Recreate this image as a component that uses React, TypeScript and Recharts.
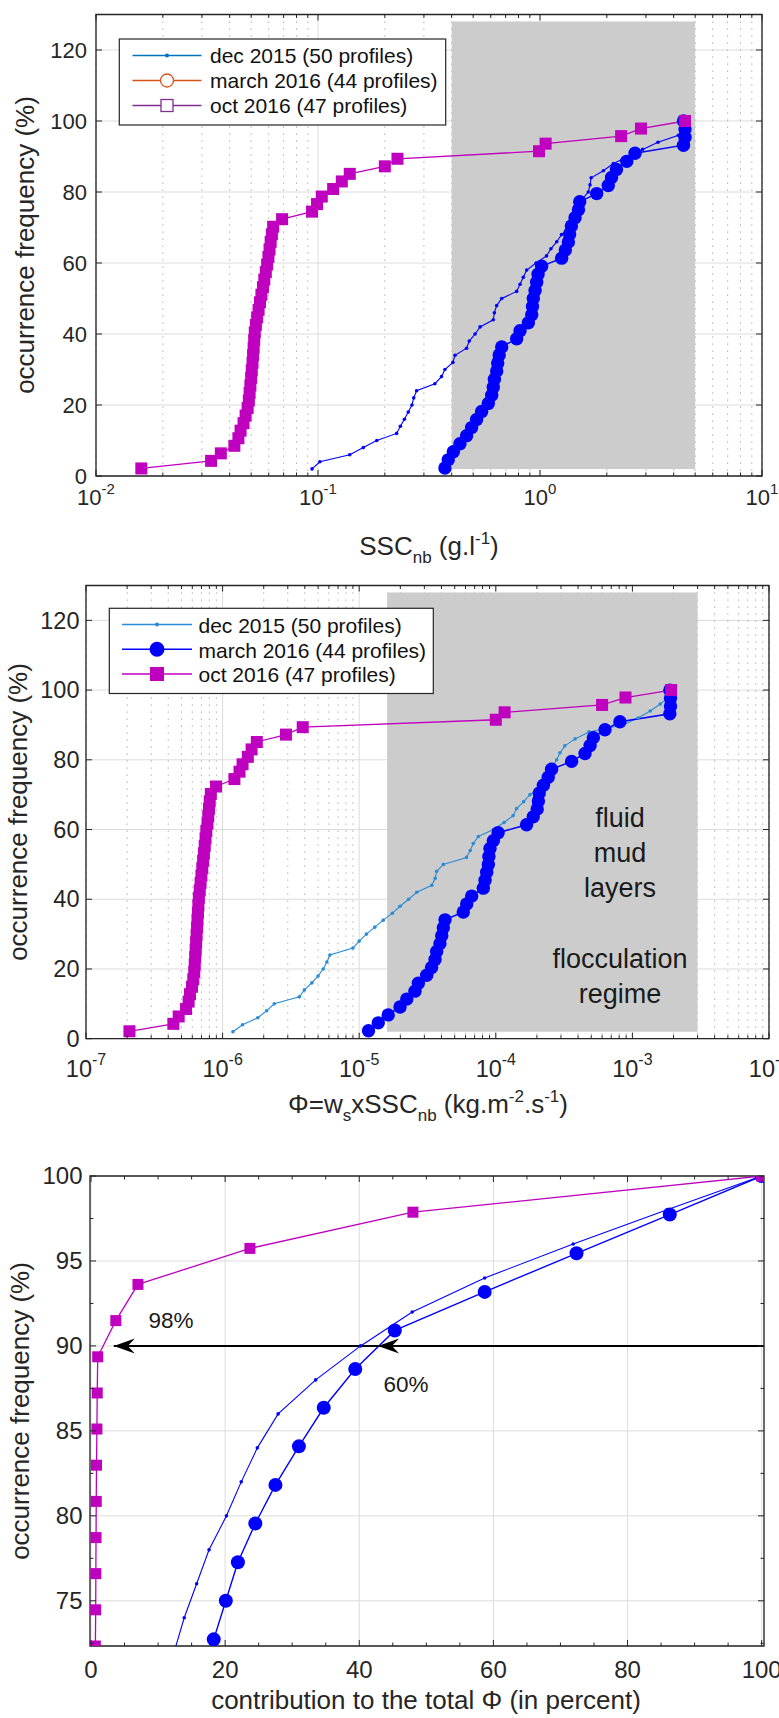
import React from 'react';
import {
  LineChart, Line, XAxis, YAxis, CartesianGrid,
  ReferenceArea, ReferenceLine, ReferenceDot,
} from 'recharts';

const FONT = '"Liberation Sans", Arial, Helvetica, sans-serif';
const INK = '#262626';
const GRID = '#dcdcdc';
const DOTGRID = '#9c9c9c';
const BLUE = '#0000ff';
const SKY = '#2b8cd6';
const MAGENTA = '#bf00bf';
const PATCH = '#cccccc';
const W = 779;

// cumulative occurrence frequency (%) of each campaign
const DEC_FREQ = [2, 4, 6, 8, 10, 12, 14, 16, 18, 20, 22, 24, 26, 28, 30, 32, 34, 36, 38, 40, 42, 44, 46, 48, 50,
  52, 54, 56, 58, 60, 62, 64, 66, 68, 70, 72, 74, 76, 78, 80, 82, 84, 86, 88, 90, 92, 94, 96, 98, 100];
const MAR_FREQ = [2.27, 4.55, 6.82, 9.09, 11.36, 13.64, 15.91, 18.18, 20.45, 22.73, 25, 27.27, 29.55, 31.82, 34.09,
  36.36, 38.64, 40.91, 43.18, 45.45, 47.73, 50, 52.27, 54.55, 56.82, 59.09, 61.36, 63.64, 65.91, 68.18, 70.45,
  72.73, 75, 77.27, 79.55, 81.82, 84.09, 86.36, 88.64, 90.91, 93.18, 95.45, 97.73, 100];
const OCT_FREQ = [2.13, 4.26, 6.38, 8.51, 10.64, 12.77, 14.89, 17.02, 19.15, 21.28, 23.4, 25.53, 27.66, 29.79, 31.91,
  34.04, 36.17, 38.3, 40.43, 42.55, 44.68, 46.81, 48.94, 51.06, 53.19, 55.32, 57.45, 59.57, 61.7, 63.83, 65.96,
  68.09, 70.21, 72.34, 74.47, 76.6, 78.72, 80.85, 82.98, 85.11, 87.23, 89.36, 91.49, 93.62, 95.74, 97.87, 100];

// SSC_nb (g/l)
const DEC_SSC = [0.094, 0.102, 0.139, 0.16, 0.184, 0.226, 0.235, 0.245, 0.255, 0.265, 0.27, 0.278, 0.336, 0.36, 0.373,
  0.405, 0.414, 0.467, 0.48, 0.51, 0.537, 0.616, 0.623, 0.638, 0.672, 0.785, 0.813, 0.841, 0.871, 0.96, 1.07, 1.12,
  1.19, 1.25, 1.36, 1.4, 1.45, 1.5, 1.55, 1.65, 1.68, 1.7, 1.93, 2.14, 2.5, 2.9, 3.4, 4.2, 4.4, 4.45];
const MAR_SSC = [0.373, 0.386, 0.407, 0.436, 0.467, 0.492, 0.518, 0.546, 0.585, 0.606, 0.616, 0.623, 0.638, 0.645,
  0.655, 0.672, 0.785, 0.813, 0.886, 0.918, 0.925, 0.933, 0.95, 0.966, 0.98, 1.017, 1.252, 1.3, 1.342, 1.36, 1.385,
  1.438, 1.49, 1.51, 1.8, 2.03, 2.1, 2.21, 2.46, 2.68, 4.43, 4.5, 4.5, 4.43];
const OCT_SSC = [0.016, 0.033, 0.0365, 0.042, 0.0438, 0.0448, 0.0462, 0.0472, 0.0482, 0.0488, 0.0492, 0.0496, 0.05,
  0.0503, 0.0507, 0.051, 0.0513, 0.0516, 0.0519, 0.0525, 0.0532, 0.054, 0.0548, 0.0556, 0.0565, 0.0573, 0.0582,
  0.059, 0.0598, 0.0605, 0.0612, 0.062, 0.0628, 0.0689, 0.094, 0.099, 0.104, 0.117, 0.128, 0.139, 0.2, 0.228, 0.99,
  1.06, 2.32, 2.85, 4.5];

// settling flux (kg/m2/s)
const DEC_FLUX = [1.19e-6, 1.4e-6, 1.81e-6, 2.1e-6, 2.39e-6, 3.65e-6, 3.97e-6, 4.5e-6, 5.0e-6, 5.45e-6,
  5.8e-6, 6.1e-6, 9.0e-6, 1.0e-5, 1.13e-5, 1.3e-5, 1.5e-5, 1.75e-5, 1.99e-5, 2.3e-5,
  2.64e-5, 3.4e-5, 3.6e-5, 3.69e-5, 4.13e-5, 6.1e-5, 6.5e-5, 6.84e-5, 7.45e-5, 9.6e-5,
  1.15e-4, 1.34e-4, 1.42e-4, 1.6e-4, 1.78e-4, 2.1e-4, 2.2e-4, 2.36e-4, 2.6e-4, 2.79e-4,
  2.95e-4, 3.2e-4, 3.8e-4, 4.8e-4, 8.5e-4, 1.1e-3, 1.35e-3, 1.6e-3, 1.85e-3, 1.88e-3];
const MAR_FLUX = [1.17e-5, 1.38e-5, 1.63e-5, 1.99e-5, 2.23e-5, 2.56e-5, 2.71e-5, 3.12e-5, 3.39e-5, 3.59e-5,
  3.69e-5, 3.9e-5, 4.02e-5, 4.13e-5, 4.25e-5, 5.78e-5, 6.12e-5, 6.66e-5, 8.1e-5, 8.34e-5,
  8.58e-5, 8.82e-5, 8.9e-5, 9.07e-5, 9.6e-5, 1.04e-4, 1.68e-4, 1.88e-4, 2.01e-4, 2.05e-4,
  2.08e-4, 2.23e-4, 2.42e-4, 2.56e-4, 3.59e-4, 4.5e-4, 4.9e-4, 5.18e-4, 6.3e-4, 8.1e-4,
  1.88e-3, 1.9e-3, 1.9e-3, 1.88e-3];
const OCT_FLUX = [2.08e-7, 4.36e-7, 4.77e-7, 5.4e-7, 5.64e-7, 5.77e-7, 5.97e-7, 6.1e-7, 6.2e-7, 6.25e-7,
  6.3e-7, 6.35e-7, 6.4e-7, 6.45e-7, 6.5e-7, 6.55e-7, 6.6e-7, 6.65e-7, 6.7e-7, 6.8e-7,
  6.9e-7, 7.0e-7, 7.1e-7, 7.2e-7, 7.3e-7, 7.4e-7, 7.5e-7, 7.6e-7, 7.75e-7, 7.85e-7,
  7.95e-7, 8.05e-7, 8.2e-7, 8.95e-7, 1.22e-6, 1.33e-6, 1.4e-6, 1.53e-6, 1.63e-6, 1.78e-6,
  2.91e-6, 3.86e-6, 1.0e-4, 1.16e-4, 6.0e-4, 8.9e-4, 1.92e-3];

// contribution to total flux (%), upper part of the distribution only
const DEC_SHARE_FREQ = [72, 74, 76, 78, 80, 82, 84, 86, 88, 90, 92, 94, 96, 98, 100];
const DEC_SHARE = [12.4, 13.9, 15.75, 17.6, 20.2, 22.4, 24.8, 27.9, 33.5, 40.2, 47.9, 58.7, 71.9, 85.8, 100];
const MAR_SHARE_FREQ = [70.45, 72.73, 75, 77.27, 79.55, 81.82, 84.09, 86.36, 88.64, 90.91, 93.18, 95.45, 97.73, 100];
const MAR_SHARE = [16.8, 18.3, 20.1, 21.9, 24.5, 27.5, 31.0, 34.7, 39.4, 45.3, 58.7, 72.4, 86.3, 100];
const OCT_SHARE_FREQ = [70.21, 72.34, 74.47, 76.6, 78.72, 80.85, 82.98, 85.11, 87.23, 89.36, 91.49, 93.62, 95.74, 97.87, 100];
const OCT_SHARE = [0.6, 0.65, 0.7, 0.72, 0.75, 0.78, 0.82, 0.88, 0.93, 1.0, 3.7, 7.0, 23.7, 48.0, 100];

// shaded regimes
const PATCH_SSC = [0.4, 5];
const PATCH_FLUX = [1.6e-5, 3e-3];
const PATCH_FREQ = [2, 128];

// arrow annotation in panel 3
const ARROW_Y = 90;
const ARROW_TIPS = [3.4, 42.8];

const SSC_TICKS = [0.01, 0.1, 1, 10];
const FLUX_TICKS = [1e-7, 1e-6, 1e-5, 1e-4, 1e-3, 1e-2];
const FREQ_TICKS = [0, 20, 40, 60, 80, 100, 120];
const SHARE_TICKS = [0, 20, 40, 60, 80, 100];
const SHARE_MINOR = [5, 10, 15, 25, 30, 35, 45, 50, 55, 65, 70, 75, 85, 90, 95];
const SHARE_FREQ_TICKS = [75, 80, 85, 90, 95, 100];
const SHARE_FREQ_MINOR = [72.5, 77.5, 82.5, 87.5, 92.5, 97.5];

const LEGEND_LABELS = ['dec 2015 (50 profiles)', 'march 2016 (44 profiles)', 'oct 2016 (47 profiles)'];

const decadeMinors = (from: number, to: number) => {
  const out: number[] = [];
  for (let e = from; e < to; e++) for (let m = 2; m <= 9; m++) out.push(m * Math.pow(10, e));
  return out;
};
const SSC_MINOR = decadeMinors(-2, 1);
const FLUX_MINOR = decadeMinors(-7, -2);

type Pt = { x: number; y: number };
const zip = (xs: number[], ys: number[]): Pt[] => xs.map((x, i) => ({ x, y: ys[i] }));

const marker = (kind: 'disc' | 'block', color: string, size: number) => (p: any) => {
  const { cx, cy, index } = p;
  if (cx == null || cy == null) return <g key={`m${index}`} />;
  if (kind === 'block') {
    return <rect key={`m${index}`} x={cx - size / 2} y={cy - size / 2} width={size} height={size} fill={color} />;
  }
  return <circle key={`m${index}`} cx={cx} cy={cy} r={size} fill={color} />;
};

const arrowHead = (p: any) => (
  <path
    d={`M${p.cx},${p.cy} L${p.cx + 21},${p.cy - 7.5} L${p.cx + 14},${p.cy} L${p.cx + 21},${p.cy + 7.5} Z`}
    fill="#000"
  />
);

const logLabel = (v: number, fs: number) => {
  const e = Math.round(Math.log10(v));
  return [
    <tspan key="b">10</tspan>,
    <tspan key="e" dy={-fs * 0.5} fontSize={fs * 0.68}>{String(e)}</tspan>,
  ];
};

// shift: correction for the 1px thickness of stacked helper axes
type TickOpts = { span: number; len: number; shift?: number; fs?: number; off?: number; log?: boolean };

const xTick = (o: TickOpts) => (p: any) => {
  const x = p.x;
  const y = p.y + (o.shift || 0);
  return (
    <g>
      <line x1={x} x2={x} y1={y} y2={y - o.len} stroke={INK} strokeWidth={1} />
      <line x1={x} x2={x} y1={y - o.span} y2={y - o.span + o.len} stroke={INK} strokeWidth={1} />
      {o.fs ? (
        <text x={x} y={y + (o.off || 0)} textAnchor="middle" fontSize={o.fs} fill={INK} fontFamily={FONT}>
          {o.log ? logLabel(p.payload.value, o.fs) : p.payload.value}
        </text>
      ) : null}
    </g>
  );
};

const yTick = (o: TickOpts) => (p: any) => {
  const x = p.x + (o.shift || 0);
  const y = p.y;
  return (
    <g>
      <line x1={x} x2={x + o.len} y1={y} y2={y} stroke={INK} strokeWidth={1} />
      <line x1={x + o.span} x2={x + o.span - o.len} y1={y} y2={y} stroke={INK} strokeWidth={1} />
      {o.fs ? (
        <text x={x - (o.off || 0)} y={y} dy="0.35em" textAnchor="end" fontSize={o.fs} fill={INK} fontFamily={FONT}>
          {p.payload.value}
        </text>
      ) : null}
    </g>
  );
};

type PanelCfg = {
  top: number;
  height: number;
  plot: { l: number; r: number; t: number; b: number };
  xLog: boolean;
  xDomain: [number, number];
  xTicks: number[];
  xMinor: number[];
  yDomain: [number, number];
  yTicks: number[];
  yMinor: number[];
  fs: number;
  xOff: number;
  yGap: number;
  dotted: boolean;
};

function Panel({ cfg, series, overlay }: { cfg: PanelCfg; series: React.ReactNode[]; overlay: React.ReactNode }) {
  const { plot } = cfg;
  const plotW = plot.r - plot.l;
  const plotH = plot.b - plot.t;
  const nY = cfg.yMinor.length ? 2 : 1;
  const margin = { top: plot.t, left: plot.l - nY, right: W - plot.r, bottom: cfg.height - plot.b - 2 };
  const scale = cfg.xLog ? 'log' : 'linear';
  return (
    <div style={{ position: 'absolute', left: 0, top: cfg.top, width: W, height: cfg.height }}>
      <LineChart width={W} height={cfg.height} margin={margin}>
        <CartesianGrid stroke={GRID} strokeWidth={1} />
        {cfg.dotted ? (
          <CartesianGrid xAxisId="minor" horizontal={false} stroke={DOTGRID} strokeWidth={1} strokeDasharray="1.2 5.8" />
        ) : null}
        <XAxis
          xAxisId={0} dataKey="x" type="number" scale={scale} domain={cfg.xDomain} allowDataOverflow
          ticks={cfg.xTicks} interval={0} tickLine={false} axisLine={false} tickSize={0} tickMargin={0} height={1}
          tick={xTick({ span: plotH, len: 6, fs: cfg.fs, off: cfg.xOff, log: cfg.xLog })}
        />
        <XAxis
          xAxisId="minor" dataKey="x" type="number" scale={scale} domain={cfg.xDomain} allowDataOverflow
          ticks={cfg.xMinor} interval={0} tickLine={false} axisLine={false} tickSize={0} tickMargin={0} height={1}
          tick={xTick({ span: plotH, len: 3.5, shift: -1 })}
        />
        <YAxis
          yAxisId={0} type="number" domain={cfg.yDomain} allowDataOverflow ticks={cfg.yTicks} interval={0}
          tickLine={false} axisLine={false} tickSize={0} tickMargin={0} width={1}
          tick={yTick({ span: plotW, len: 6, fs: cfg.fs, off: cfg.yGap })}
        />
        {cfg.yMinor.length ? (
          <YAxis
            yAxisId="minor" type="number" domain={cfg.yDomain} allowDataOverflow ticks={cfg.yMinor} interval={0}
            tickLine={false} axisLine={false} tickSize={0} tickMargin={0} width={1}
            tick={yTick({ span: plotW, len: 3.5, shift: 1 })}
          />
        ) : null}
        {series}
        <ReferenceArea
          x1={cfg.xDomain[0]} x2={cfg.xDomain[1]} y1={cfg.yDomain[0]} y2={cfg.yDomain[1]}
          fill="none" fillOpacity={0} stroke={INK} strokeWidth={1.3}
        />
      </LineChart>
      <svg
        width={W} height={cfg.height}
        style={{ position: 'absolute', left: 0, top: 0, pointerEvents: 'none', overflow: 'visible' }}
        fontFamily={FONT}
      >
        {overlay}
      </svg>
    </div>
  );
}

type LegendKind = 'dot' | 'ring' | 'box' | 'disc' | 'block';
type LegendGeom = {
  x: number; y: number; w: number; h: number;
  rows: number[]; lx1: number; lx2: number; mx: number; tx: number; base: number;
  colors: string[]; kinds: LegendKind[];
};

function LegendBox({ g }: { g: LegendGeom }) {
  return (
    <g>
      <rect x={g.x} y={g.y} width={g.w} height={g.h} fill="#fff" stroke={INK} strokeWidth={1.2} />
      {LEGEND_LABELS.map((label, i) => {
        const cy = g.rows[i];
        const c = g.colors[i];
        const k = g.kinds[i];
        return (
          <g key={label}>
            <line x1={g.lx1} x2={g.lx2} y1={cy} y2={cy} stroke={c} strokeWidth={1.5} />
            {k === 'dot' && <circle cx={g.mx} cy={cy} r={2} fill={c} />}
            {k === 'ring' && <circle cx={g.mx} cy={cy} r={6.5} fill="#fff" stroke={c} strokeWidth={1.3} />}
            {k === 'box' && <rect x={g.mx - 6} y={cy - 6} width={12} height={12} fill="#fff" stroke={c} strokeWidth={1.3} />}
            {k === 'disc' && <circle cx={g.mx} cy={cy} r={7.5} fill={c} />}
            {k === 'block' && <rect x={g.mx - 7} y={cy - 7} width={14} height={14} fill={c} />}
            <text x={g.tx} y={cy + g.base} fontSize={21} fill="#111">{label}</text>
          </g>
        );
      })}
    </g>
  );
}

const P1: PanelCfg = {
  top: 0, height: 540,
  plot: { l: 96, r: 762, t: 14.5, b: 476 },
  xLog: true, xDomain: [0.01, 10], xTicks: SSC_TICKS, xMinor: SSC_MINOR,
  yDomain: [0, 130], yTicks: FREQ_TICKS, yMinor: [],
  fs: 22, xOff: 29, yGap: 9, dotted: true,
};

const P2: PanelCfg = {
  top: 540, height: 600,
  plot: { l: 86, r: 769, t: 45.5, b: 498.7 },
  xLog: true, xDomain: [1e-7, 1e-2], xTicks: FLUX_TICKS, xMinor: FLUX_MINOR,
  yDomain: [0, 130], yTicks: FREQ_TICKS, yMinor: [],
  fs: 23.5, xOff: 38, yGap: 6.5, dotted: true,
};

const P3: PanelCfg = {
  top: 1140, height: 578,
  plot: { l: 90, r: 764, t: 36, b: 506 },
  xLog: false, xDomain: [-0.15, 100.35], xTicks: SHARE_TICKS, xMinor: SHARE_MINOR,
  yDomain: [72.34, 100], yTicks: SHARE_FREQ_TICKS, yMinor: SHARE_FREQ_MINOR,
  fs: 24, xOff: 32, yGap: 7.5, dotted: false,
};

const common = { type: 'linear' as const, dataKey: 'y', isAnimationActive: false, activeDot: false, legendType: 'none' as const };

const yTitle = (x: number, cy: number) => (
  <text transform={`translate(${x},${cy}) rotate(-90)`} textAnchor="middle" fontSize={26} fill={INK}>
    occurrence frequency (%)
  </text>
);

export default function App() {
  return (
    <div style={{ position: 'absolute', left: 0, top: 0, width: W, height: 1718, background: '#fff', fontFamily: FONT }}>
      <Panel
        cfg={P1}
        series={[
          <ReferenceArea key="patch" x1={PATCH_SSC[0]} x2={PATCH_SSC[1]} y1={PATCH_FREQ[0]} y2={PATCH_FREQ[1]} fill={PATCH} fillOpacity={1} stroke="none" />,
          <Line key="dec" {...common} data={zip(DEC_SSC, DEC_FREQ)} stroke={BLUE} strokeWidth={1.1} dot={marker('disc', BLUE, 1.8)} />,
          <Line key="mar" {...common} data={zip(MAR_SSC, MAR_FREQ)} stroke={BLUE} strokeWidth={1.5} dot={marker('disc', BLUE, 6.7)} />,
          <Line key="oct" {...common} data={zip(OCT_SSC, OCT_FREQ)} stroke={MAGENTA} strokeWidth={1.3} dot={marker('block', MAGENTA, 12)} />,
        ]}
        overlay={
          <g>
            <text x={429} y={555} textAnchor="middle" fontSize={26} fill={INK}>
              SSC<tspan dy={8} fontSize={17}>nb</tspan>
              <tspan dy={-8}> (g.l</tspan>
              <tspan dy={-11} fontSize={17}>-1</tspan>
              <tspan dy={11}>)</tspan>
            </text>
            {yTitle(33.5, 245)}
            <LegendBox
              g={{
                x: 119.3, y: 39, w: 326.4, h: 86, rows: [55.5, 80.5, 105.5],
                lx1: 132.5, lx2: 201.5, mx: 167, tx: 210, base: 7.3,
                colors: ['#0072BD', '#D95319', '#7E2F8E'], kinds: ['dot', 'ring', 'box'],
              }}
            />
          </g>
        }
      />
      <Panel
        cfg={P2}
        series={[
          <ReferenceArea key="patch" x1={PATCH_FLUX[0]} x2={PATCH_FLUX[1]} y1={PATCH_FREQ[0]} y2={PATCH_FREQ[1]} fill={PATCH} fillOpacity={1} stroke="none" />,
          <Line key="dec" {...common} data={zip(DEC_FLUX, DEC_FREQ)} stroke={SKY} strokeWidth={1.1} dot={marker('disc', SKY, 1.8)} />,
          <Line key="mar" {...common} data={zip(MAR_FLUX, MAR_FREQ)} stroke={BLUE} strokeWidth={1.5} dot={marker('disc', BLUE, 6.7)} />,
          <Line key="oct" {...common} data={zip(OCT_FLUX, OCT_FREQ)} stroke={MAGENTA} strokeWidth={1.3} dot={marker('block', MAGENTA, 12)} />,
        ]}
        overlay={
          <g>
            <text x={428} y={573} textAnchor="middle" fontSize={26} fill={INK}>
              Φ=w<tspan dy={8} fontSize={17}>s</tspan>
              <tspan dy={-8}>xSSC</tspan>
              <tspan dy={8} fontSize={17}>nb</tspan>
              <tspan dy={-8}> (kg.m</tspan>
              <tspan dy={-11} fontSize={17}>-2</tspan>
              <tspan dy={11}>.s</tspan>
              <tspan dy={-11} fontSize={17}>-1</tspan>
              <tspan dy={11}>)</tspan>
            </text>
            {yTitle(26.6, 272)}
            <g fontSize={27} fill="#1a1a1a" textAnchor="middle">
              <text x={620} y={287}>fluid</text>
              <text x={620} y={322}>mud</text>
              <text x={620} y={357}>layers</text>
              <text x={620} y={428}>flocculation</text>
              <text x={620} y={463}>regime</text>
            </g>
            <LegendBox
              g={{
                x: 109.3, y: 68.3, w: 324, h: 85.2, rows: [84.5, 109.3, 134],
                lx1: 122, lx2: 192, mx: 157, tx: 198.5, base: 8.3,
                colors: [SKY, BLUE, MAGENTA], kinds: ['dot', 'disc', 'block'],
              }}
            />
          </g>
        }
      />
      <Panel
        cfg={P3}
        series={[
          <Line key="dec" {...common} data={zip(DEC_SHARE, DEC_SHARE_FREQ)} stroke={BLUE} strokeWidth={1.1} dot={marker('disc', BLUE, 1.8)} />,
          <Line key="mar" {...common} data={zip(MAR_SHARE, MAR_SHARE_FREQ)} stroke={BLUE} strokeWidth={1.4} dot={marker('disc', BLUE, 7)} />,
          <Line key="oct" {...common} data={zip(OCT_SHARE, OCT_SHARE_FREQ)} stroke={MAGENTA} strokeWidth={1.3} dot={marker('block', MAGENTA, 11)} />,
          <ReferenceLine key="arrow" segment={[{ x: ARROW_TIPS[0], y: ARROW_Y }, { x: P3.xDomain[1], y: ARROW_Y }]} stroke="#000" strokeWidth={2} />,
          <ReferenceDot key="head1" x={ARROW_TIPS[0]} y={ARROW_Y} r={0} shape={arrowHead} />,
          <ReferenceDot key="head2" x={ARROW_TIPS[1]} y={ARROW_Y} r={0} shape={arrowHead} />,
        ]}
        overlay={
          <g>
            <text x={426} y={569} textAnchor="middle" fontSize={26} fill={INK}>
              contribution to the total Φ (in percent)
            </text>
            {yTitle(29, 271)}
            <text x={171} y={188} textAnchor="middle" fontSize={22.5} fill="#1a1a1a">98%</text>
            <text x={406} y={251.7} textAnchor="middle" fontSize={22.5} fill="#1a1a1a">60%</text>
          </g>
        }
      />
    </div>
  );
}
